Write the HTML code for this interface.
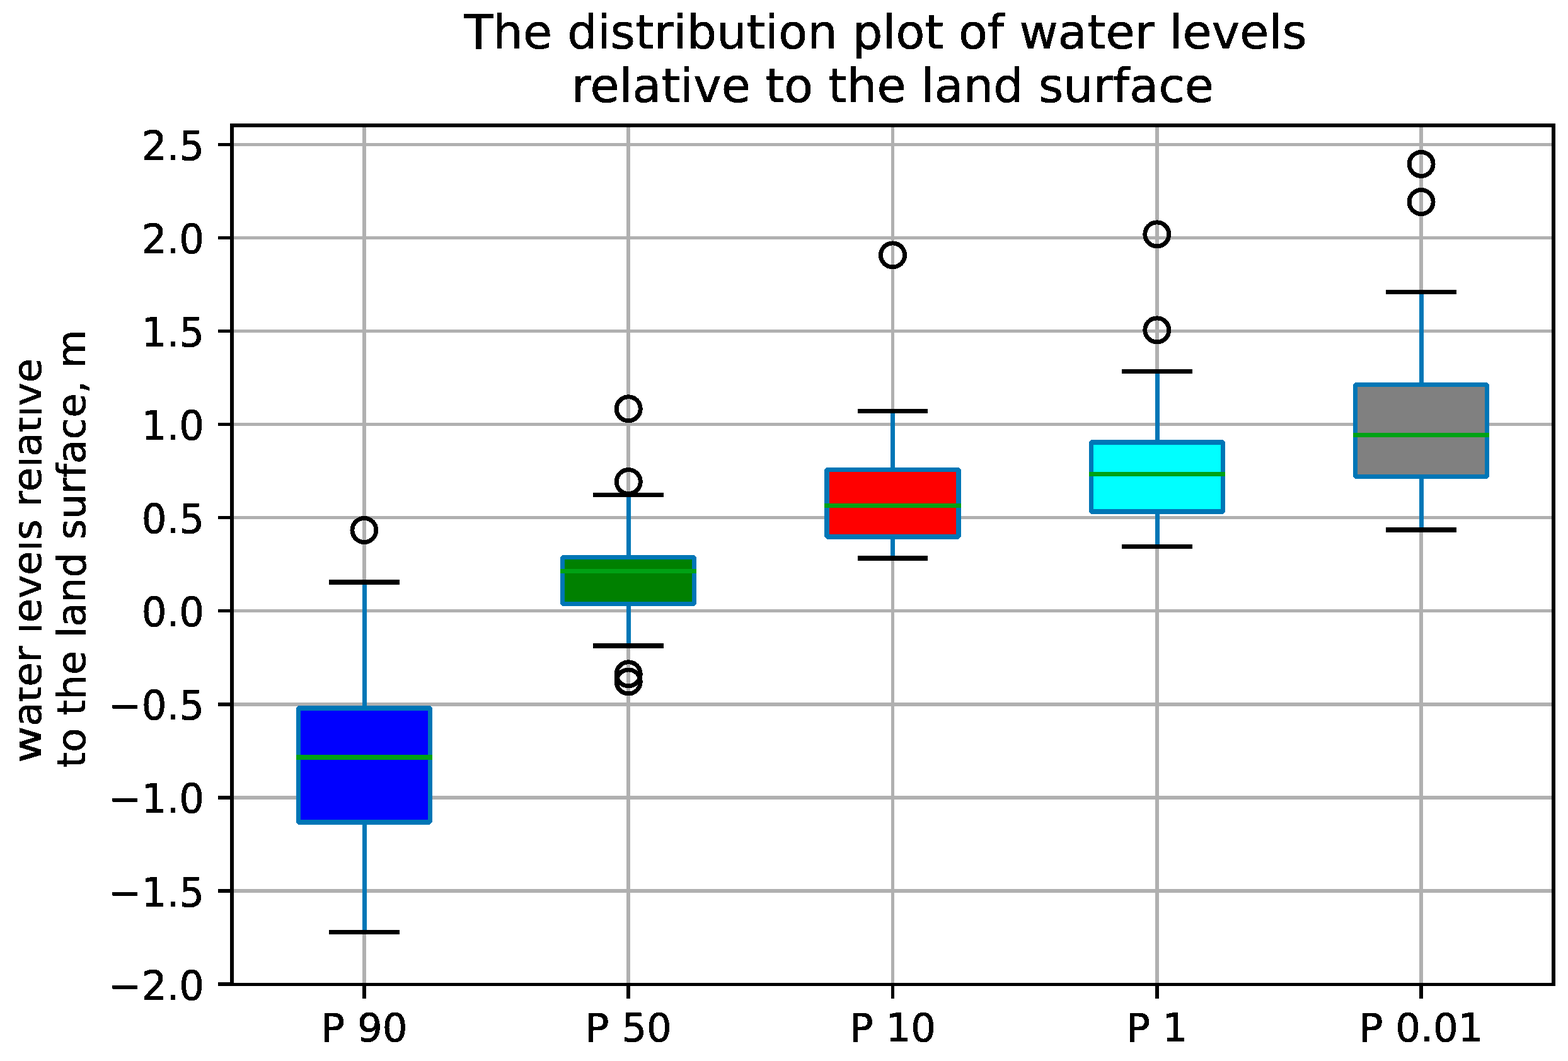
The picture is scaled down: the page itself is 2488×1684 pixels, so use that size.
<!DOCTYPE html><html><head><meta charset="utf-8"><title>The distribution plot of water levels relative to the land surface</title><style>html,body{margin:0;padding:0;background:#fff}svg{display:block}text{font-family:"DejaVu Sans","Liberation Sans",sans-serif;fill:#000;stroke:#000;stroke-width:0.8px}</style></head><body>
<svg width="2488" height="1684" viewBox="0 0 2488 1684">
<rect x="0" y="0" width="2488" height="1684" fill="#fff"/>
<g shape-rendering="crispEdges">
<path d="M368.00 229.45H2465.00M368.00 377.50H2465.00M368.00 525.55H2465.00M368.00 673.60H2465.00M368.00 821.65H2465.00M368.00 969.70H2465.00M368.00 1117.75H2465.00M368.00 1265.80H2465.00M368.00 1413.85H2465.00M577.90 199.00V1562.50M997.20 199.00V1562.50M1416.50 199.00V1562.50M1835.80 199.00V1562.50M2255.10 199.00V1562.50" stroke="#b0b0b0" stroke-width="5.56" fill="none"/>
<rect x="473.40" y="1123.90" width="209.00" height="180.90" fill="#0000ff" stroke="#0076b6" stroke-width="7.5" stroke-linejoin="bevel"/>
<path d="M578.50 1304.80V1479.50M578.50 1123.90V924.00" stroke="#0076b6" stroke-width="6.94" fill="none"/>
<path d="M525.70 1479.50H630.10M525.70 924.00H630.10" stroke="#000" stroke-width="7.5" stroke-linecap="square" fill="none"/>
<path d="M473.40 1201.90H682.40" stroke="#00a214" stroke-width="7.5" stroke-linecap="square" fill="none"/>
<circle cx="577.90" cy="841.50" r="19.0" fill="none" stroke="#000" stroke-width="6.94"/>
<rect x="892.70" y="884.60" width="209.00" height="73.70" fill="#008000" stroke="#0076b6" stroke-width="7.5" stroke-linejoin="bevel"/>
<path d="M997.50 958.30V1025.00M997.50 884.60V785.50" stroke="#0076b6" stroke-width="6.94" fill="none"/>
<path d="M945.00 1025.00H1049.40M945.00 785.50H1049.40" stroke="#000" stroke-width="7.5" stroke-linecap="square" fill="none"/>
<path d="M892.70 906.60H1101.70" stroke="#00a214" stroke-width="7.5" stroke-linecap="square" fill="none"/>
<circle cx="997.20" cy="648.80" r="19.0" fill="none" stroke="#000" stroke-width="6.94"/>
<circle cx="997.20" cy="764.60" r="19.0" fill="none" stroke="#000" stroke-width="6.94"/>
<circle cx="997.20" cy="1069.80" r="19.0" fill="none" stroke="#000" stroke-width="6.94"/>
<circle cx="997.20" cy="1082.00" r="19.0" fill="none" stroke="#000" stroke-width="6.94"/>
<rect x="1312.00" y="745.50" width="209.00" height="106.30" fill="#ff0000" stroke="#0076b6" stroke-width="7.5" stroke-linejoin="bevel"/>
<path d="M1416.50 851.80V886.00M1416.50 745.50V652.40" stroke="#0076b6" stroke-width="6.94" fill="none"/>
<path d="M1364.30 886.00H1468.70M1364.30 652.40H1468.70" stroke="#000" stroke-width="7.5" stroke-linecap="square" fill="none"/>
<path d="M1312.00 802.40H1521.00" stroke="#00a214" stroke-width="7.5" stroke-linecap="square" fill="none"/>
<circle cx="1416.50" cy="404.90" r="19.0" fill="none" stroke="#000" stroke-width="6.94"/>
<rect x="1731.30" y="701.80" width="209.00" height="110.40" fill="#00ffff" stroke="#0076b6" stroke-width="7.5" stroke-linejoin="bevel"/>
<path d="M1836.50 812.20V867.40M1836.50 701.80V589.40" stroke="#0076b6" stroke-width="6.94" fill="none"/>
<path d="M1783.60 867.40H1888.00M1783.60 589.40H1888.00" stroke="#000" stroke-width="7.5" stroke-linecap="square" fill="none"/>
<path d="M1731.30 752.30H1940.30" stroke="#00a214" stroke-width="7.5" stroke-linecap="square" fill="none"/>
<circle cx="1835.80" cy="371.90" r="19.0" fill="none" stroke="#000" stroke-width="6.94"/>
<circle cx="1835.80" cy="523.90" r="19.0" fill="none" stroke="#000" stroke-width="6.94"/>
<rect x="2150.60" y="610.50" width="209.00" height="145.80" fill="#808080" stroke="#0076b6" stroke-width="7.5" stroke-linejoin="bevel"/>
<path d="M2255.50 756.30V840.90M2255.50 610.50V463.30" stroke="#0076b6" stroke-width="6.94" fill="none"/>
<path d="M2202.90 840.90H2307.30M2202.90 463.30H2307.30" stroke="#000" stroke-width="7.5" stroke-linecap="square" fill="none"/>
<path d="M2150.60 690.50H2359.60" stroke="#00a214" stroke-width="7.5" stroke-linecap="square" fill="none"/>
<circle cx="2255.10" cy="260.40" r="19.0" fill="none" stroke="#000" stroke-width="6.94"/>
<circle cx="2255.10" cy="320.50" r="19.0" fill="none" stroke="#000" stroke-width="6.94"/>
<rect x="368.0" y="199.0" width="2097.0" height="1363.5" fill="none" stroke="#000" stroke-width="5.56" stroke-linecap="square" stroke-linejoin="miter"/>
<path d="M368.00 229.45H346.00M368.00 377.50H346.00M368.00 525.55H346.00M368.00 673.60H346.00M368.00 821.65H346.00M368.00 969.70H346.00M368.00 1117.75H346.00M368.00 1265.80H346.00M368.00 1413.85H346.00M368.00 1561.90H346.00M577.90 1562.50V1584.80M997.20 1562.50V1584.80M1416.50 1562.50V1584.80M1835.80 1562.50V1584.80M2255.10 1562.50V1584.80" stroke="#000" stroke-width="5.56" fill="none"/>
</g>
<defs><filter id="cr" x="-5%" y="-5%" width="110%" height="110%"><feComponentTransfer><feFuncA type="discrete" tableValues="0 1"/></feComponentTransfer></filter></defs>
<g filter="url(#cr)">
<text transform="translate(324.1 254.2) scale(1 1.03)" font-size="62.5" text-anchor="end">2.5</text>
<text transform="translate(324.1 402.2) scale(1 1.03)" font-size="62.5" text-anchor="end">2.0</text>
<text transform="translate(324.1 550.2) scale(1 1.03)" font-size="62.5" text-anchor="end">1.5</text>
<text transform="translate(324.1 698.3) scale(1 1.03)" font-size="62.5" text-anchor="end">1.0</text>
<text transform="translate(324.1 846.4) scale(1 1.03)" font-size="62.5" text-anchor="end">0.5</text>
<text transform="translate(324.1 994.4) scale(1 1.03)" font-size="62.5" text-anchor="end">0.0</text>
<text transform="translate(324.1 1142.5) scale(1 1.03)" font-size="62.5" text-anchor="end">−0.5</text>
<text transform="translate(324.1 1290.5) scale(1 1.03)" font-size="62.5" text-anchor="end">−1.0</text>
<text transform="translate(324.1 1438.6) scale(1 1.03)" font-size="62.5" text-anchor="end">−1.5</text>
<text transform="translate(324.1 1586.6) scale(1 1.03)" font-size="62.5" text-anchor="end">−2.0</text>
<text x="577.9" y="1653.0" font-size="62.5" text-anchor="middle">P 90</text>
<text x="997.2" y="1653.0" font-size="62.5" text-anchor="middle">P 50</text>
<text x="1416.5" y="1653.0" font-size="62.5" text-anchor="middle">P 10</text>
<text x="1835.8" y="1653.0" font-size="62.5" text-anchor="middle">P 1</text>
<text x="2255.1" y="1653.0" font-size="62.5" text-anchor="middle">P 0.01</text>
<text x="1405" y="76.8" font-size="75" text-anchor="middle" textLength="1337.2" lengthAdjust="spacing">The distribution plot of water levels</text>
<text x="1416.5" y="161.9" font-size="75" text-anchor="middle" textLength="1018.8" lengthAdjust="spacing">relative to the land surface</text>
<text transform="translate(64.7 1210.9) rotate(-90)" font-size="62.5" text-anchor="start"><tspan textLength="58.4" lengthAdjust="spacingAndGlyphs">w</tspan>ater levels relative</text>
<text transform="translate(134.6 870.9) rotate(-90)" font-size="62.5" text-anchor="middle" textLength="695.3" lengthAdjust="spacing">to the land surface, m</text>
</g>
<rect x="0" y="0" width="30" height="1684" fill="#fff"/>
</svg></body></html>
